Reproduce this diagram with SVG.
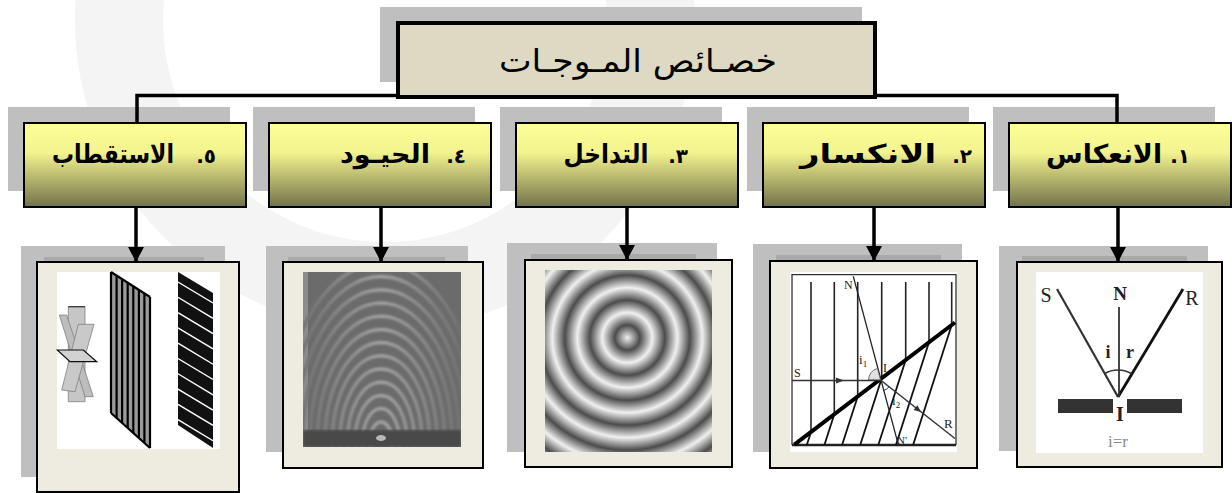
<svg xmlns="http://www.w3.org/2000/svg" width="1232" height="493" viewBox="0 0 1232 493">
<style>
.shadow{fill:#bfbfbf}
.band{fill:#a9a9a9}
.hdr{fill:url(#hdrGrad);stroke:#000;stroke-width:2}
.frame{fill:#eeece1;stroke:#000;stroke-width:2}
.lbl{font-family:'DejaVu Sans',sans-serif;font-weight:bold;font-size:26px;fill:#000;text-anchor:middle;direction:rtl;unicode-bidi:embed}
.num{font-family:'DejaVu Sans',sans-serif;font-weight:bold;font-size:20px;fill:#000;text-anchor:end;direction:ltr;unicode-bidi:bidi-override}
.conn{stroke:#000;stroke-width:3.5;fill:none}
.ser{font-family:'Liberation Serif',serif;fill:#222}
</style>
<defs>
<linearGradient id="hdrGrad" x1="0" y1="0" x2="0" y2="1">
<stop offset="0" stop-color="#ffff99"/>
<stop offset="0.35" stop-color="#f3f38f"/>
<stop offset="1" stop-color="#72724a"/>
</linearGradient>
<radialGradient id="rings" gradientUnits="userSpaceOnUse" cx="627.3" cy="337.7" r="25" fx="627.3" fy="337.7" spreadMethod="repeat">
<stop offset="0" stop-color="#f0f0f0"/>
<stop offset="0.5" stop-color="#4c4c4c"/>
<stop offset="1" stop-color="#f0f0f0"/>
</radialGradient>
<linearGradient id="arcGrad" gradientUnits="userSpaceOnUse" x1="303" y1="0" x2="461" y2="0">
<stop offset="0" stop-color="#727272"/>
<stop offset="0.5" stop-color="#a2a2a2"/>
<stop offset="1" stop-color="#727272"/>
</linearGradient>
<filter id="soft" x="-5%" y="-5%" width="110%" height="110%"><feGaussianBlur stdDeviation="1.1"/></filter>
<clipPath id="clipDiff"><rect x="303" y="272" width="158" height="175"/></clipPath>
<clipPath id="clipPol2"><polygon points="178,272 213,293 213,448 178,425"/></clipPath>
<marker id="arr" markerUnits="userSpaceOnUse" markerWidth="16" markerHeight="16" viewBox="0 0 16 16" refX="15" refY="8" orient="auto">
<path d="M0,0 L15,8 L0,16 Z" fill="#000"/>
</marker>
</defs>
<rect width="1232" height="493" fill="#fff"/>
<circle cx="385" cy="20" r="266" fill="none" stroke="#f4f4f4" stroke-width="88"/>

<g id="title">
<rect class="shadow" x="380" y="7" width="482" height="75"/>
<rect x="398" y="23" width="477" height="74" fill="#ddd9c3" stroke="#000" stroke-width="4"/>
<text x="638" y="72" font-family="'DejaVu Sans',sans-serif" font-size="32" text-anchor="middle" direction="rtl" unicode-bidi="embed" textLength="278" lengthAdjust="spacingAndGlyphs">خصـائص المـوجـات</text>
</g>

<g id="h1">
<rect class="shadow" x="993" y="107" width="222" height="84"/>
<rect class="hdr" x="1009" y="123" width="222" height="84"/>
<text class="lbl" x="1104" y="163" textLength="116" lengthAdjust="spacingAndGlyphs">الانعكاس</text>
<text class="num" x="1190" y="163">.١</text>
</g>
<g id="h2">
<rect class="shadow" x="747" y="107" width="222" height="84"/>
<rect class="hdr" x="763" y="123" width="222" height="84"/>
<text class="lbl" x="868" y="163" textLength="136" lengthAdjust="spacingAndGlyphs">الانكسار</text>
<text class="num" x="972" y="163">.٢</text>
</g>
<g id="h3">
<rect class="shadow" x="500" y="107" width="222" height="84"/>
<rect class="hdr" x="516" y="123" width="222" height="84"/>
<text class="lbl" x="606" y="163" textLength="85" lengthAdjust="spacingAndGlyphs">التداخل</text>
<text class="num" x="688" y="163">.٣</text>
</g>
<g id="h4">
<rect class="shadow" x="253" y="107" width="222" height="84"/>
<rect class="hdr" x="269" y="123" width="222" height="84"/>
<text class="lbl" x="385" y="163" textLength="90" lengthAdjust="spacingAndGlyphs">الحيـود</text>
<text class="num" x="466" y="163">.٤</text>
</g>
<g id="h5">
<rect class="shadow" x="8" y="107" width="222" height="84"/>
<rect class="hdr" x="24" y="123" width="222" height="84"/>
<text class="lbl" x="113" y="163" textLength="122" lengthAdjust="spacingAndGlyphs">الاستقطاب</text>
<text class="num" x="216" y="163">.٥</text>
</g>

<!-- Image 1: reflection -->
<g id="img1">
<rect class="shadow" x="999" y="246" width="209" height="205"/>
<rect class="band" x="1022" y="256" width="165" height="10"/>
<rect class="frame" x="1017" y="262" width="205" height="205"/>
<rect x="1036" y="272" width="167" height="181" fill="#fff"/>
<line x1="1057" y1="289" x2="1118" y2="397" stroke="#333" stroke-width="2.2"/>
<line x1="1183" y1="289" x2="1118" y2="397" stroke="#111" stroke-width="2.8"/>
<line x1="1119" y1="307" x2="1119" y2="397" stroke="#333" stroke-width="1.8"/>
<path d="M1104.7,373.5 A27,27 0 0,1 1131.9,373.9" fill="none" stroke="#333" stroke-width="1.5"/>
<rect x="1058" y="399" width="55" height="14" fill="#333"/>
<rect x="1127" y="399" width="55" height="14" fill="#333"/>
<text class="ser" x="1046" y="302" font-size="20" text-anchor="middle">S</text>
<text class="ser" x="1120" y="300" font-size="19" font-weight="bold" text-anchor="middle">N</text>
<text class="ser" x="1192" y="305" font-size="20" text-anchor="middle">R</text>
<text class="ser" x="1108" y="358" font-size="18" font-weight="bold" text-anchor="middle">i</text>
<text class="ser" x="1130" y="358" font-size="18" font-weight="bold" text-anchor="middle">r</text>
<text class="ser" x="1120" y="421" font-size="20" font-weight="bold" text-anchor="middle">I</text>
<text x="1118" y="447" font-family="'Liberation Serif',serif" font-size="17" fill="#888" text-anchor="middle">i=r</text>
</g>

<!-- Image 2: refraction -->
<g id="img2">
<rect class="shadow" x="753" y="244" width="209" height="208"/>
<rect class="band" x="776" y="255" width="165" height="10"/>
<rect class="frame" x="770" y="261" width="207" height="207"/>
<rect x="790" y="272" width="167" height="180" fill="#fff"/>
<path d="M792,445 V274.7 H956 V445" fill="none" stroke="#333" stroke-width="1.3"/>
<line x1="792" y1="445" x2="956" y2="445" stroke="#222" stroke-width="2.5"/>
<g stroke="#222" stroke-width="1.6">
<line x1="811" y1="282" x2="811" y2="432"/>
<line x1="834.3" y1="282" x2="834.3" y2="414.3"/>
<line x1="857.7" y1="282" x2="857.7" y2="396.5"/>
<line x1="881.7" y1="282" x2="881.7" y2="378.2"/>
<line x1="905.7" y1="282" x2="905.7" y2="360"/>
<line x1="929" y1="282" x2="929" y2="342.3"/>
<line x1="951.7" y1="282" x2="951.7" y2="325"/>
</g>
<g stroke="#111" stroke-width="1.8">
<line x1="811" y1="432" x2="806.8" y2="445"/>
<line x1="834.3" y1="414.3" x2="824.4" y2="445"/>
<line x1="857.7" y1="396.5" x2="842.1" y2="445"/>
<line x1="881.7" y1="378.2" x2="860.2" y2="445"/>
<line x1="905.7" y1="360" x2="878.3" y2="445"/>
<line x1="929" y1="342.3" x2="895.9" y2="445"/>
<line x1="951.7" y1="325" x2="913.1" y2="445"/>
</g>
<line x1="794.3" y1="444.7" x2="955" y2="322.5" stroke="#000" stroke-width="4"/>
<line x1="853.3" y1="276.3" x2="898.3" y2="444.7" stroke="#222" stroke-width="1.3"/>
<path d="M880.5,380 L868.5,380 A12,12 0 0,1 877.5,368.4 Z" fill="#e0e0e0" stroke="#555" stroke-width="0.8"/>
<path d="M889.1,386.8 A11,11 0 0,1 883.3,390.6" fill="none" stroke="#333" stroke-width="1"/>
<line x1="792" y1="380.5" x2="880.5" y2="380.5" stroke="#333" stroke-width="1.5"/>
<polygon points="836,377.5 844,380.5 836,383.5" fill="#333"/>
<line x1="880.5" y1="380" x2="955" y2="438.5" stroke="#333" stroke-width="1.5"/>
<polygon points="921,412 913.6,410.1 917.4,405.3" fill="#333"/>
<text class="ser" x="844" y="289" font-size="12">N</text>
<text class="ser" x="897" y="444" font-size="11">N'</text>
<text class="ser" x="794" y="377" font-size="12">S</text>
<text class="ser" x="944" y="428" font-size="13">R</text>
<text class="ser" x="859" y="364" font-size="13">i<tspan font-size="9" dy="3">1</tspan></text>
<text class="ser" x="883" y="372" font-size="12">I</text>
<text class="ser" x="892" y="405" font-size="13">i<tspan font-size="9" dy="3">2</tspan></text>
</g>

<!-- Image 3: interference -->
<g id="img3">
<rect class="shadow" x="507" y="243" width="210" height="209"/>
<rect class="band" x="531" y="254" width="165" height="10"/>
<rect class="frame" x="525" y="260" width="207" height="207"/>
<rect x="545" y="270" width="167" height="182" fill="url(#rings)"/>
</g>

<!-- Image 4: diffraction -->
<g id="img4">
<rect class="shadow" x="266" y="246" width="202" height="206"/>
<rect class="band" x="288" y="257" width="157" height="10"/>
<rect class="frame" x="283" y="262" width="200" height="206"/>
<g clip-path="url(#clipDiff)">
<rect x="303" y="272" width="158" height="175" fill="#6b6b6b"/>
<rect x="303" y="272" width="5" height="175" fill="#8c8c8c"/>
<g fill="none" stroke="url(#arcGrad)" stroke-width="3.5" filter="url(#soft)">
<ellipse cx="381" cy="441" rx="11" ry="19"/>
<ellipse cx="381" cy="441" rx="18.5" ry="32.4"/>
<ellipse cx="381" cy="441" rx="26" ry="45.6"/>
<ellipse cx="381" cy="441" rx="33.5" ry="58.8"/>
<ellipse cx="381" cy="441" rx="41" ry="72"/>
<ellipse cx="381" cy="441" rx="48.6" ry="85.2"/>
<ellipse cx="381" cy="441" rx="56" ry="98.4"/>
<ellipse cx="381" cy="441" rx="63.6" ry="111.6"/>
<ellipse cx="381" cy="441" rx="71" ry="124.8"/>
<ellipse cx="381" cy="441" rx="78.6" ry="138"/>
<ellipse cx="381" cy="441" rx="86" ry="151.2"/>
<ellipse cx="381" cy="441" rx="93.6" ry="164.4"/>
<ellipse cx="381" cy="441" rx="101" ry="177.6"/>
</g>
<rect x="303" y="430" width="158" height="17" fill="#4a4a4a" filter="url(#soft)"/>
<ellipse cx="381" cy="438" rx="5" ry="3" fill="#b8b8b8"/>
</g>
</g>

<!-- Image 5: polarization -->
<g id="img5">
<rect class="shadow" x="21" y="246" width="204" height="231"/>
<rect class="band" x="44" y="257" width="160" height="10"/>
<rect class="frame" x="37" y="262" width="202" height="230"/>
<rect x="57" y="272" width="163" height="177" fill="#fff"/>
<g stroke="#808080" stroke-width="0.8">
<polygon points="68.3,306.7 85,306.7 85,401.7 68.3,401.7" fill="#c6c6c6"/>
<polygon points="59.3,315 66.7,315 93.3,396.7 85,396.7" fill="#bdbdbd"/>
<polygon points="78.3,324.3 94,324.3 75,391.7 61.7,390" fill="#c9c9c9"/>
</g>
<line x1="68.3" y1="306.7" x2="85" y2="306.7" stroke="#333" stroke-width="1.2"/>
<polygon points="57.3,350 83.3,350 96.7,361.7 70,361.7" fill="#d2d2d2" stroke="#111" stroke-width="1.2"/>
<polygon points="111,272 150,297 150,448 111,413" fill="#9a9a9a"/>
<g stroke="#000" stroke-width="2.2">
<line x1="111" y1="272" x2="111" y2="413"/>
<line x1="116.6" y1="275.6" x2="116.6" y2="418"/>
<line x1="122.1" y1="279.1" x2="122.1" y2="423"/>
<line x1="127.7" y1="282.7" x2="127.7" y2="428"/>
<line x1="133.3" y1="286.3" x2="133.3" y2="433"/>
<line x1="138.9" y1="289.9" x2="138.9" y2="438"/>
<line x1="144.4" y1="293.4" x2="144.4" y2="443"/>
<line x1="150" y1="297" x2="150" y2="448"/>
<line x1="111" y1="272" x2="150" y2="297"/>
<line x1="111" y1="413" x2="150" y2="448"/>
</g>
<polygon points="178,272 213,293 213,448 178,425" fill="#111"/>
<g clip-path="url(#clipPol2)" stroke="#fff" stroke-width="1.4">
<line x1="178" y1="282" x2="213" y2="303"/>
<line x1="178" y1="297.3" x2="213" y2="318.3"/>
<line x1="178" y1="312.6" x2="213" y2="333.6"/>
<line x1="178" y1="327.9" x2="213" y2="348.9"/>
<line x1="178" y1="343.2" x2="213" y2="364.2"/>
<line x1="178" y1="358.5" x2="213" y2="379.5"/>
<line x1="178" y1="373.8" x2="213" y2="394.8"/>
<line x1="178" y1="389.1" x2="213" y2="410.1"/>
<line x1="178" y1="404.4" x2="213" y2="425.4"/>
<line x1="178" y1="419.7" x2="213" y2="440.7"/>
</g>
</g>

<g id="connectors">
<path class="conn" d="M137,123 V95.5 H398 M875,95.5 H1117 V123"/>
<line class="conn" x1="136" y1="208" x2="136" y2="262" marker-end="url(#arr)"/>
<line class="conn" x1="381" y1="208" x2="381" y2="262" marker-end="url(#arr)"/>
<line class="conn" x1="627" y1="208" x2="627" y2="260" marker-end="url(#arr)"/>
<line class="conn" x1="874" y1="208" x2="874" y2="261" marker-end="url(#arr)"/>
<line class="conn" x1="1118" y1="208" x2="1118" y2="262" marker-end="url(#arr)"/>
</g>
</svg>
